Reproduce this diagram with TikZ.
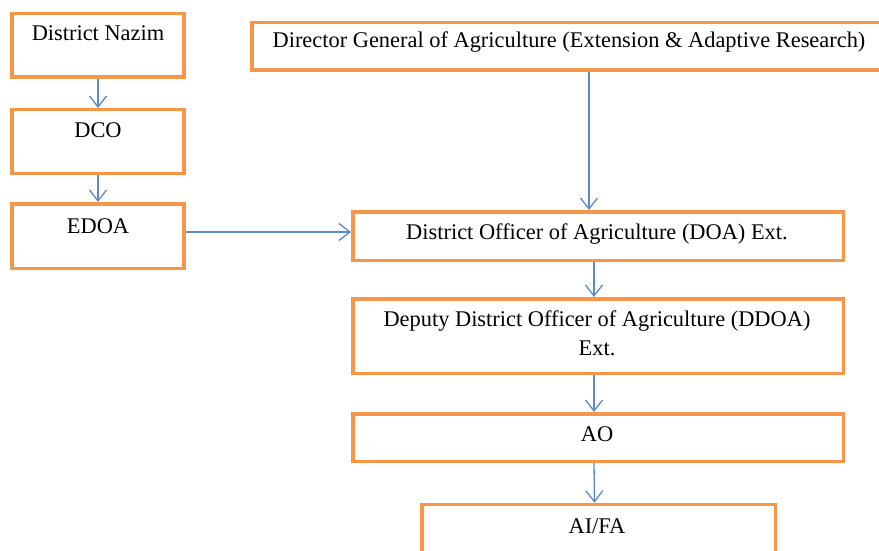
\documentclass[tikz,border=0pt]{standalone}
\usepackage{fontspec}
\setmainfont{Liberation Serif}
\usetikzlibrary{arrows.meta}
\definecolor{boxorange}{HTML}{F79646}
\definecolor{arrblue}{HTML}{5B8AC6}
\tikzset{
  box/.style={draw=boxorange, line width=3.5pt, fill=white, inner sep=0pt},
  lbl/.style={anchor=base, inner sep=0pt, font=\fontsize{22.4}{29}\selectfont, text=black},
  arr/.style={draw=arrblue, line width=1.3pt, -{Straight Barb[length=11pt,width=17pt,line width=1.3pt]}}
}
\begin{document}
\begin{tikzpicture}[x=1pt,y=-1pt]
\clip (0,0) rectangle (879,551);
\fill[white] (0,0) rectangle (879,551);
% boxes
\node[box, minimum width=172pt, minimum height=63.5pt] (nazim) at (98,45.5) {};
\node[box, minimum width=172pt, minimum height=63.5pt] (dco) at (98,141.5) {};
\node[box, minimum width=172pt, minimum height=64.5pt] (edoa) at (98,236) {};
\node[box, minimum width=634pt, minimum height=47.5pt] (dg) at (569,46.5) {};
\node[box, minimum width=490.5pt, minimum height=48.5pt] (doa) at (598,236) {};
\node[box, minimum width=490.5pt, minimum height=74.5pt] (ddoa) at (598,336) {};
\node[box, minimum width=490.5pt, minimum height=47.5pt] (ao) at (598,437.5) {};
\node[box, minimum width=353.5pt, minimum height=63pt] (aifa) at (598.5,536) {};
% texts
\node[lbl] (tnazim) at (98,41) {District Nazim};
\node[lbl] (tdco) at (98,138) {DCO};
\node[lbl] (tedoa) at (98,233) {EDOA};
\node[lbl] (tdg) at (569,48) {Director General of Agriculture (Extension \& Adaptive Research)};
\node[lbl] (tdoa) at (597,239) {District Officer of Agriculture (DOA) Ext.};
\node[lbl] (tddoa1) at (597,326) {Deputy District Officer of Agriculture (DDOA)};
\node[lbl] (tddoa2) at (597,355) {Ext.};
\node[lbl] (tao) at (597,441) {AO};
\node[lbl] (taifa) at (597,533) {AI/FA};
% arrows
\draw[arr] (nazim.south) -- (dco.north);
\draw[arr] (dco.south) -- (edoa.north);
\draw[arr] ([yshift=4pt]edoa.east) -- ([yshift=4pt]doa.west);
\draw[arr] ([xshift=-9pt]doa.north |- dg.south) -- ([xshift=-9pt]doa.north);
\draw[arr] ([xshift=-4pt]doa.south) -- ([xshift=-4pt]ddoa.north);
\draw[arr] ([xshift=-4pt]ddoa.south) -- ([xshift=-4pt]ao.north);
\draw[arr] ([xshift=-4pt]ao.south) -- ([xshift=-4pt]aifa.north);
\end{tikzpicture}
\end{document}
